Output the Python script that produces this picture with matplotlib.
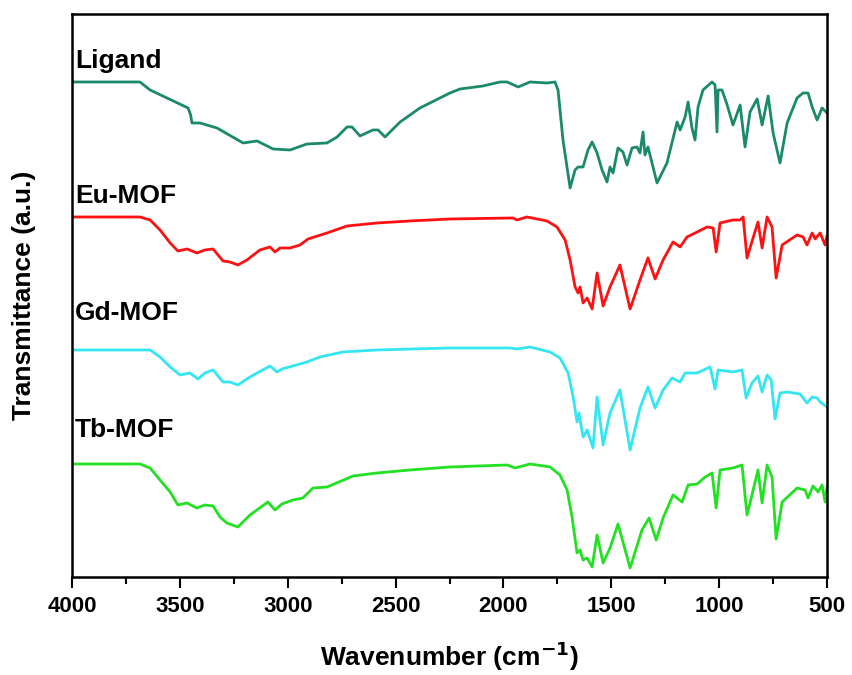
import matplotlib
matplotlib.use("Agg")
import matplotlib.pyplot as plt
from matplotlib.ticker import MultipleLocator

plt.rcParams["font.family"] = ["Liberation Sans", "DejaVu Sans"]
plt.rcParams["font.weight"] = "bold"

# wavenumber (cm-1) / transmittance (a.u., curves already offset)
ligand_w = [4000, 3685, 3638, 3462, 3450, 3444, 3407, 3328, 3207, 3142, 3068, 2989, 2911,
            2818, 2771, 2725, 2702, 2665, 2605, 2581, 2549, 2479, 2387, 2248, 2201, 2095,
            2016, 1983, 1932, 1877, 1798, 1761, 1747, 1724, 1691, 1668, 1654, 1631, 1608,
            1589, 1566, 1543, 1520, 1506, 1492, 1469, 1446, 1427, 1404, 1381, 1367, 1353,
            1344, 1330, 1288, 1242, 1195, 1181, 1158, 1144, 1126, 1112, 1098, 1075, 1033,
            1019, 1010, 1005, 987, 963, 936, 903, 880, 857, 824, 801, 773, 750, 718, 685,
            639, 611, 588, 569, 546, 523, 500]
ligand_t = [495, 495, 487, 469, 462, 454, 454, 449, 434, 436, 428, 427, 433,
            434, 440, 450, 450, 441, 447, 447, 440, 455, 469, 484, 488, 491,
            495, 495, 490, 495, 494, 495, 487, 437, 389, 407, 410, 410, 427,
            435, 424, 407, 395, 410, 404, 429, 425, 412, 429, 430, 424, 445,
            422, 430, 394, 414, 455, 447, 460, 475, 449, 437, 470, 487, 495,
            492, 445, 487, 487, 472, 452, 472, 430, 465, 478, 452, 481, 444, 414, 454,
            479, 484, 484, 470, 457, 469, 464]

eu_w = [4000, 3685, 3638, 3592, 3545, 3509, 3467, 3421, 3384, 3346, 3323, 3300, 3268,
        3231, 3189, 3129, 3082, 3059, 3036, 2989, 2943, 2906, 2818, 2725, 2586, 2433,
        2248, 1956, 1937, 1891, 1798, 1752, 1714, 1691, 1668, 1654, 1645, 1631, 1612,
        1589, 1566, 1538, 1506, 1460, 1413, 1367, 1330, 1297, 1260, 1214, 1181, 1149,
        1102, 1056, 1028, 1014, 996, 936, 903, 889, 871, 843, 820, 801, 778, 755, 736,
        708, 639, 611, 593, 569, 555, 532, 509, 500]
eu_t = [360, 360, 357, 347, 334, 326, 328, 324, 327, 328, 322, 316, 315,
        312, 317, 327, 330, 325, 329, 329, 332, 338, 344, 351, 354, 356,
        358, 359, 357, 360, 356, 350, 337, 317, 290, 284, 290, 274, 279,
        268, 304, 271, 290, 312, 268, 297, 319, 298, 317, 335, 330, 340,
        345, 350, 349, 325, 354, 357, 357, 360, 319, 339, 355, 329, 360, 350, 299,
        332, 342, 340, 332, 344, 338, 344, 332, 341]

gd_w = [4000, 3638, 3592, 3545, 3499, 3453, 3416, 3384, 3346, 3300, 3268, 3231, 3175,
        3082, 3050, 3027, 2976, 2911, 2851, 2744, 2586, 2248, 1970, 1937, 1877, 1784,
        1738, 1700, 1677, 1659, 1650, 1631, 1612, 1585, 1566, 1538, 1506, 1460, 1413,
        1367, 1330, 1297, 1260, 1218, 1181, 1158, 1102, 1042, 1019, 1005, 936, 894, 875,
        848, 820, 801, 778, 759, 741, 718, 685, 625, 593, 569, 546, 532, 500]
gd_t = [227, 227, 220, 210, 202, 204, 198, 204, 207, 195, 195, 192, 200,
        211, 205, 208, 211, 215, 220, 225, 227, 229, 229, 228, 230, 225,
        219, 204, 180, 155, 164, 140, 147, 129, 180, 132, 164, 187, 127,
        169, 190, 169, 187, 199, 195, 204, 204, 210, 188, 207, 205, 207, 179,
        194, 201, 185, 202, 197, 158, 184, 185, 183, 174, 180, 179, 175, 170]

tb_w = [4000, 3685, 3638, 3592, 3545, 3509, 3467, 3421, 3384, 3346, 3314, 3282, 3231,
        3175, 3092, 3059, 3027, 2976, 2930, 2883, 2818, 2697, 2586, 2433, 2248, 1983,
        1946, 1877, 1784, 1738, 1705, 1682, 1659, 1645, 1631, 1612, 1589, 1566, 1538,
        1506, 1469, 1413, 1358, 1325, 1292, 1260, 1214, 1172, 1144, 1102, 1065, 1033,
        1014, 996, 936, 894, 871, 848, 820, 801, 778, 755, 736, 708, 639, 602, 588, 565,
        541, 523, 509, 500]
tb_t = [113, 113, 109, 97, 85, 72, 74, 69, 72, 71, 60, 54, 50,
        62, 75, 67, 73, 77, 79, 89, 90, 101, 104, 107, 110, 112,
        109, 113, 110, 102, 87, 60, 24, 27, 17, 19, 10, 42, 14,
        29, 53, 9, 47, 59, 37, 59, 82, 75, 92, 93, 100, 104,
        69, 107, 109, 112, 62, 82, 107, 74, 112, 100, 38, 75, 89, 87, 79, 91,
        85, 92, 75, 90]

names = ["Ligand", "Eu-MOF", "Gd-MOF", "Tb-MOF"]
colors = ["#1b8a6b", "#ff1111", "#33e6f2", "#22e022"]
label_y = [516, 381, 264, 147]

fig = plt.figure(figsize=(8.52, 6.75), dpi=100)
ax = fig.add_axes([0.0845, 0.1452, 0.8862, 0.8341])

series = [(ligand_w, ligand_t), (eu_w, eu_t), (gd_w, gd_t), (tb_w, tb_t)]
for (w, t), c, name, ly in zip(series, colors, names, label_y):
    ax.plot(w, t, color=c, lw=2.0, solid_joinstyle="round")
    ax.text(3985, ly, name, fontsize=19, fontweight="bold", va="center", ha="left")

ax.set_xlim(4000, 500)
ax.set_ylim(0, 563)
ax.set_yticks([])
ax.xaxis.set_major_locator(MultipleLocator(500))
ax.xaxis.set_minor_locator(MultipleLocator(250))
ax.tick_params(axis="x", which="major", direction="out", length=8, width=1.5, labelsize=16, pad=6)
ax.tick_params(axis="x", which="minor", direction="out", length=5, width=1.5)
for lbl in ax.get_xticklabels():
    lbl.set_fontweight("bold")
for s in ax.spines.values():
    s.set_linewidth(1.8)

ax.set_xlabel("Wavenumber (cm$^{\\mathbf{-1}}$)", fontsize=19, fontweight="bold", labelpad=16)
ax.set_ylabel("Transmittance (a.u.)", fontsize=19, fontweight="bold", labelpad=26)

fig.savefig("out.png", dpi=100)
